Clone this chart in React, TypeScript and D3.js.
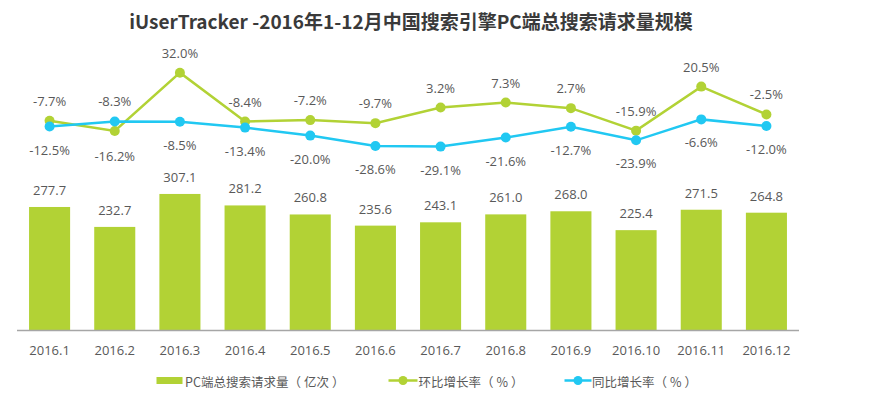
import React from "react";
import * as d3 from "d3";

const categories = ["2016.1","2016.2","2016.3","2016.4","2016.5","2016.6","2016.7","2016.8","2016.9","2016.10","2016.11","2016.12"];
const volume = [277.7,232.7,307.1,281.2,260.8,235.6,243.1,261.0,268.0,225.4,271.5,264.8];
const mom = [-7.7,-16.2,32.0,-8.4,-7.2,-9.7,3.2,7.3,2.7,-15.9,20.5,-2.5];
const yoy = [-12.5,-8.3,-8.5,-13.4,-20.0,-28.6,-29.1,-21.6,-12.7,-23.9,-6.6,-12.0];
const title = "iUserTracker -2016年1-12月中国搜索引擎PC端总搜索请求量规模";
const legendNames = ["PC端总搜索请求量", "环比增长率", "同比增长率"];
const legendUnits = ["亿次", "%", "%"];

const GREEN = "#B2D235";
const BLUE = "#21C8F2";
const TEXT = "#595959";
const FONT = "'Open Sans', 'Noto Sans CJK SC', sans-serif";

export default function App() {
  const W = 875, H = 398;
  const x = d3.scaleBand<string>().domain(categories).range([17, 799]).paddingInner(0.37).paddingOuter(0.185);
  const yBar = d3.scaleLinear().domain([0, 400]).range([330, 152.8]);
  const yPct = d3.scaleLinear().domain([-40, 40]).range([159.8, 63]);
  const cx = (c: string) => (x(c) as number) + x.bandwidth() / 2;
  const line = d3.line<number>().x((_, i) => cx(categories[i])).y(d => yPct(d));

  const legendText = (i: number, lx: number) => (
    <text x={lx} y={381} dominantBaseline="central">
      {legendNames[i]}（<tspan dx={3}>{legendUnits[i]}</tspan><tspan dx={3}>）</tspan>
    </text>
  );

  return (
    <svg width={W} height={H} style={{ position: "absolute", left: 0, top: 0, background: "#fff" }} fontFamily={FONT}>
      <text x={411} y={29} textAnchor="middle" fontSize={19} fontWeight={700} fill="#3a3a3a"
        fontFamily="'Noto Sans CJK SC', 'Open Sans', sans-serif">{title}</text>

      {categories.map((c, i) => (
        <g key={c}>
          <rect x={x(c)} y={yBar(volume[i])} width={x.bandwidth()} height={330 - yBar(volume[i])} fill={GREEN} />
          <text x={cx(c)} y={yBar(volume[i]) - 17} textAnchor="middle" dominantBaseline="central" fontSize={13} fill={TEXT}>
            {volume[i].toFixed(1)}
          </text>
          <text x={cx(c)} y={350} textAnchor="middle" dominantBaseline="central" fontSize={13} fill={TEXT}>{c}</text>
        </g>
      ))}
      <line x1={17} x2={799} y1={330.5} y2={330.5} stroke="#A6A6A6" strokeWidth={1.5} />

      <path d={line(mom) || ""} fill="none" stroke={GREEN} strokeWidth={2.5} />
      <path d={line(yoy) || ""} fill="none" stroke={BLUE} strokeWidth={2.5} />
      {categories.map((c, i) => {
        const gy = yPct(mom[i]);
        const by = yPct(yoy[i]);
        const greenAbove = gy <= by;
        return (
          <g key={"p" + c}>
            <circle cx={cx(c)} cy={gy} r={5} fill={GREEN} />
            <circle cx={cx(c)} cy={by} r={5} fill={BLUE} />
            <text x={cx(c)} y={greenAbove ? gy - 20 : gy + 25} textAnchor="middle" dominantBaseline="central" fontSize={13} fill={TEXT}>
              {mom[i].toFixed(1)}%
            </text>
            <text x={cx(c)} y={greenAbove ? by + 23 : by - 20} textAnchor="middle" dominantBaseline="central" fontSize={13} fill={TEXT}>
              {yoy[i].toFixed(1)}%
            </text>
          </g>
        );
      })}

      <g fontSize={12.5} fill={TEXT} fontFamily="'Noto Sans CJK SC', sans-serif">
        <rect x={156.5} y={377} width={26} height={7} fill={GREEN} />
        {legendText(0, 185)}
        <line x1={388.5} x2={417.5} y1={380.5} y2={380.5} stroke={GREEN} strokeWidth={2.5} />
        <circle cx={403} cy={380.5} r={4.5} fill={GREEN} />
        {legendText(1, 418.5)}
        <line x1={564.5} x2={591.5} y1={380.5} y2={380.5} stroke={BLUE} strokeWidth={2.5} />
        <circle cx={578} cy={380.5} r={4.5} fill={BLUE} />
        {legendText(2, 592)}
      </g>
    </svg>
  );
}
